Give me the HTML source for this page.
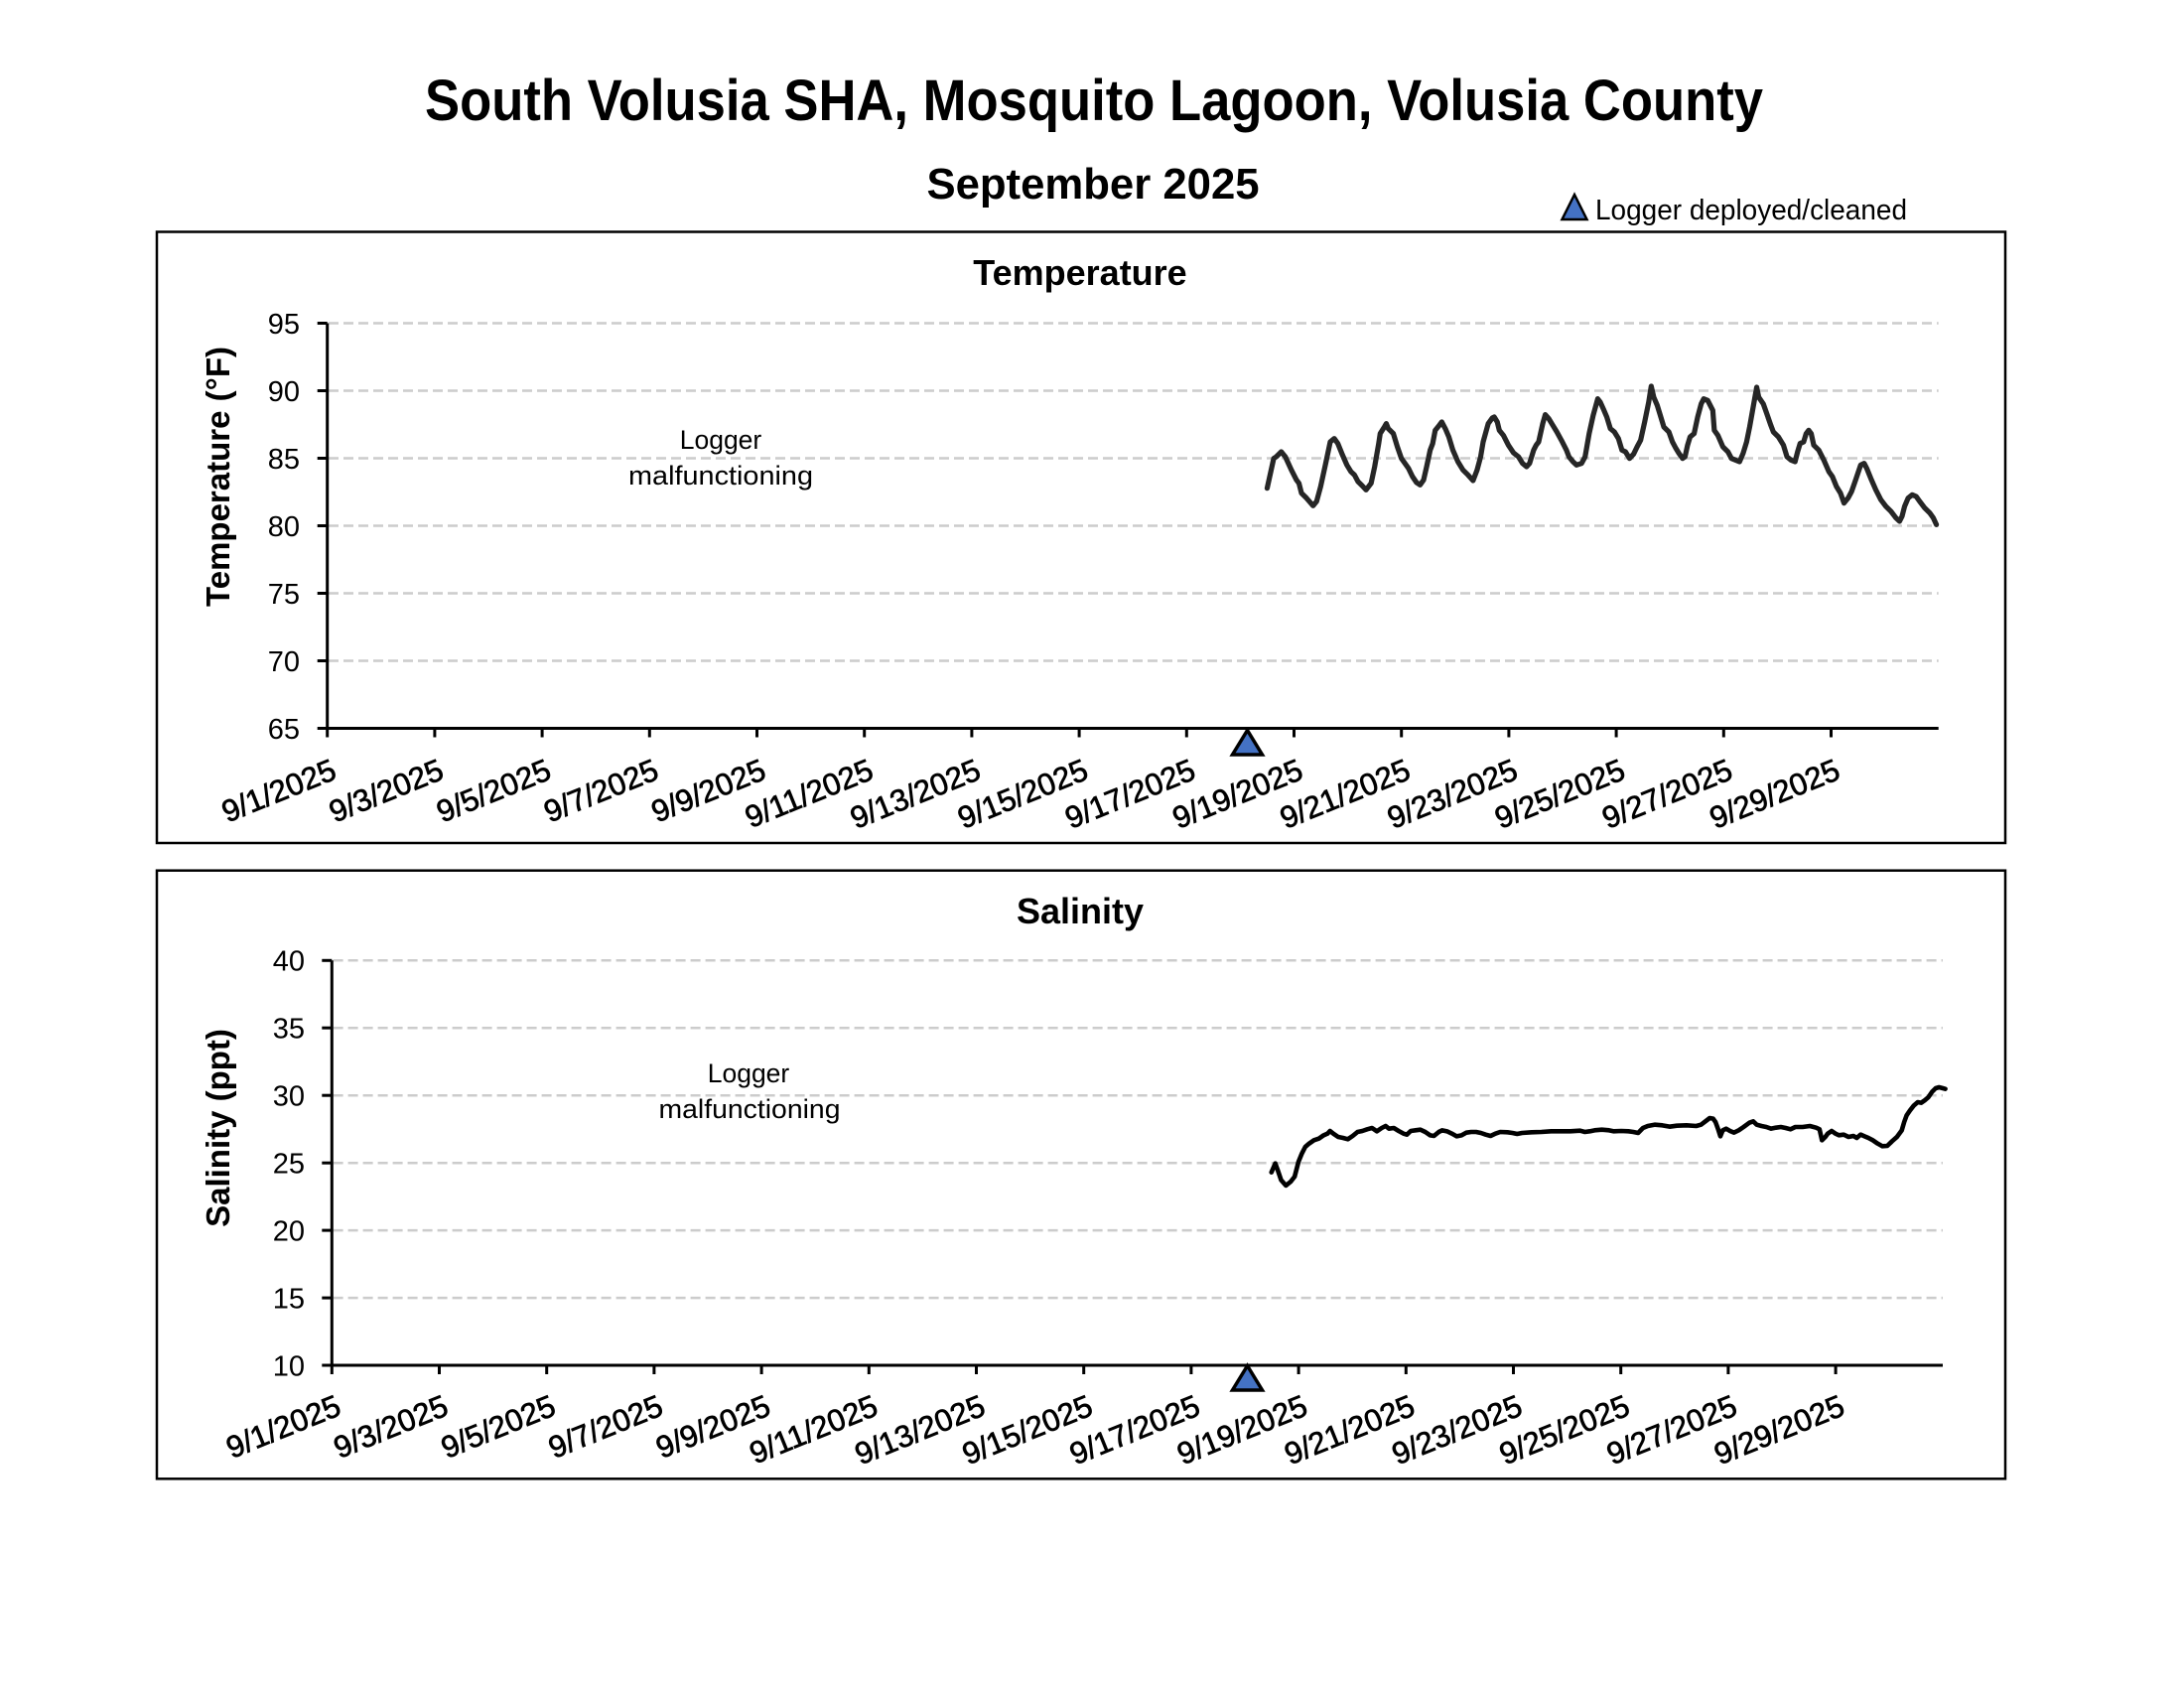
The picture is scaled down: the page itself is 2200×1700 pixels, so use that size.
<!DOCTYPE html>
<html>
<head>
<meta charset="utf-8">
<style>
  html, body { margin: 0; padding: 0; background: #ffffff; }
  svg { display: block; }
  text { font-family: "Liberation Sans", Arial, sans-serif; fill: #000; }
  .xl text { stroke: #000; stroke-width: 0.7; }
</style>
</head>
<body>
<svg width="2200" height="1700" viewBox="0 0 2200 1700" xmlns="http://www.w3.org/2000/svg">
  <rect x="0" y="0" width="2200" height="1700" fill="#ffffff"/>

  <!-- Main titles -->
  <text x="428" y="121" font-size="58" font-weight="bold" textLength="1348" lengthAdjust="spacingAndGlyphs">South Volusia SHA, Mosquito Lagoon, Volusia County</text>
  <text x="1101" y="200" font-size="43.7" font-weight="bold" text-anchor="middle">September 2025</text>

  <!-- Legend -->
  <polygon points="1586,196 1573.5,221 1598.5,221" fill="#4472C4" stroke="#000" stroke-width="2.5" stroke-linejoin="miter"/>
  <text x="1607" y="221" font-size="29" textLength="314" lengthAdjust="spacingAndGlyphs">Logger deployed/cleaned</text>

  <!-- ================= TOP PANEL: Temperature ================= -->
  <rect x="158" y="233.5" width="1862" height="615.5" fill="none" stroke="#000" stroke-width="2.5"/>
  <text x="1088" y="287" font-size="36" font-weight="bold" text-anchor="middle">Temperature</text>

  <!-- gridlines -->
  <g stroke="#cccccc" stroke-width="2.5" stroke-dasharray="10 5">
    <line x1="331" y1="325.5" x2="1952.7" y2="325.5"/>
    <line x1="331" y1="393.5" x2="1952.7" y2="393.5"/>
    <line x1="331" y1="461.5" x2="1952.7" y2="461.5"/>
    <line x1="331" y1="529.5" x2="1952.7" y2="529.5"/>
    <line x1="331" y1="597.5" x2="1952.7" y2="597.5"/>
    <line x1="331" y1="665.5" x2="1952.7" y2="665.5"/>
  </g>

  <!-- axes -->
  <g stroke="#000" stroke-width="3" fill="none">
    <line x1="329.7" y1="325.5" x2="329.7" y2="733.5"/>
    <line x1="328.2" y1="733.5" x2="1952.7" y2="733.5"/>
    <line x1="319.7" y1="325.5" x2="329.7" y2="325.5"/>
    <line x1="319.7" y1="393.5" x2="329.7" y2="393.5"/>
    <line x1="319.7" y1="461.5" x2="329.7" y2="461.5"/>
    <line x1="319.7" y1="529.5" x2="329.7" y2="529.5"/>
    <line x1="319.7" y1="597.5" x2="329.7" y2="597.5"/>
    <line x1="319.7" y1="665.5" x2="329.7" y2="665.5"/>
    <line x1="319.7" y1="733.5" x2="329.7" y2="733.5"/>
    <line x1="329.7" y1="733.5" x2="329.7" y2="742.5"/>
    <line x1="437.9" y1="733.5" x2="437.9" y2="742.5"/>
    <line x1="546.1" y1="733.5" x2="546.1" y2="742.5"/>
    <line x1="654.3" y1="733.5" x2="654.3" y2="742.5"/>
    <line x1="762.5" y1="733.5" x2="762.5" y2="742.5"/>
    <line x1="870.7" y1="733.5" x2="870.7" y2="742.5"/>
    <line x1="978.9" y1="733.5" x2="978.9" y2="742.5"/>
    <line x1="1087.1" y1="733.5" x2="1087.1" y2="742.5"/>
    <line x1="1195.3" y1="733.5" x2="1195.3" y2="742.5"/>
    <line x1="1303.5" y1="733.5" x2="1303.5" y2="742.5"/>
    <line x1="1411.7" y1="733.5" x2="1411.7" y2="742.5"/>
    <line x1="1519.9" y1="733.5" x2="1519.9" y2="742.5"/>
    <line x1="1628.1" y1="733.5" x2="1628.1" y2="742.5"/>
    <line x1="1736.3" y1="733.5" x2="1736.3" y2="742.5"/>
    <line x1="1844.5" y1="733.5" x2="1844.5" y2="742.5"/>
  </g>

  <!-- y tick labels -->
  <g font-size="29" text-anchor="end">
    <text x="302" y="335.8">95</text>
    <text x="302" y="403.8">90</text>
    <text x="302" y="471.8">85</text>
    <text x="302" y="539.8">80</text>
    <text x="302" y="607.8">75</text>
    <text x="302" y="675.8">70</text>
    <text x="302" y="743.8">65</text>
  </g>

  <!-- y axis title -->
  <text transform="translate(231,480) rotate(-90)" font-size="33" font-weight="bold" text-anchor="middle">Temperature (°F)</text>

  <!-- x tick labels -->
  <g class="xl" font-size="31" text-anchor="end">
    <text transform="translate(340.7,783.5) rotate(-22)">9/1/2025</text>
    <text transform="translate(448.9,783.5) rotate(-22)">9/3/2025</text>
    <text transform="translate(557.1,783.5) rotate(-22)">9/5/2025</text>
    <text transform="translate(665.3,783.5) rotate(-22)">9/7/2025</text>
    <text transform="translate(773.5,783.5) rotate(-22)">9/9/2025</text>
    <text transform="translate(881.7,783.5) rotate(-22)">9/11/2025</text>
    <text transform="translate(989.9,783.5) rotate(-22)">9/13/2025</text>
    <text transform="translate(1098.1,783.5) rotate(-22)">9/15/2025</text>
    <text transform="translate(1206.3,783.5) rotate(-22)">9/17/2025</text>
    <text transform="translate(1314.5,783.5) rotate(-22)">9/19/2025</text>
    <text transform="translate(1422.7,783.5) rotate(-22)">9/21/2025</text>
    <text transform="translate(1530.9,783.5) rotate(-22)">9/23/2025</text>
    <text transform="translate(1639.1,783.5) rotate(-22)">9/25/2025</text>
    <text transform="translate(1747.3,783.5) rotate(-22)">9/27/2025</text>
    <text transform="translate(1855.5,783.5) rotate(-22)">9/29/2025</text>
  </g>

  <!-- annotation -->
  <g font-size="26.5" text-anchor="middle">
    <text x="726" y="452">Logger</text>
    <text x="726" y="488" textLength="186" lengthAdjust="spacingAndGlyphs">malfunctioning</text>
  </g>

  <!-- temperature series -->
  <g transform="translate(1250,320) scale(0.50839,0.33333)">
    <polyline fill="none" stroke="#262626" stroke-width="5.2" stroke-linejoin="round" stroke-linecap="round" vector-effect="non-scaling-stroke"
      points="52,515 65,425 70,420 80,405 88,420 100,460 110,490 115,500 120,530 130,545 143,568 150,555 158,510 168,440 177,375 185,365 192,380 200,410 210,445 218,465 225,475 232,495 240,507 248,520 258,500 265,450 273,380 276,350 285,328 288,320 292,335 302,350 310,390 318,425 325,440 332,455 340,480 348,498 355,505 362,490 368,450 375,400 380,380 385,340 393,325 398,315 405,335 412,360 420,400 430,435 440,460 450,475 460,492 468,460 475,420 480,375 490,320 498,303 502,300 508,315 512,340 520,355 530,385 540,408 550,420 558,440 566,450 572,440 580,400 585,385 590,375 598,320 603,293 610,305 618,325 626,345 635,370 645,400 650,420 658,435 665,445 675,440 682,420 690,350 698,295 707,245 712,255 718,275 725,300 732,335 740,345 748,365 755,400 762,405 770,425 778,412 785,390 792,370 800,315 808,255 813,207 818,240 825,265 830,290 838,330 848,345 855,375 862,395 868,410 875,425 880,420 885,385 890,360 898,350 905,300 912,260 917,245 925,250 935,280 938,340 945,355 955,390 965,405 972,425 980,430 988,435 995,410 1002,375 1008,330 1015,270 1022,210 1026,240 1035,260 1042,290 1050,325 1055,345 1065,360 1075,385 1082,420 1090,430 1098,435 1103,405 1108,380 1115,375 1120,350 1125,340 1130,350 1135,385 1145,400 1155,430 1165,465 1172,480 1180,510 1188,530 1195,560 1203,545 1210,525 1218,490 1228,445 1235,440 1240,455 1248,485 1258,520 1268,550 1278,570 1288,585 1298,605 1305,615 1310,600 1315,570 1322,545 1330,535 1338,540 1345,555 1355,575 1365,590 1372,605 1378,625"/>
  </g>

  <!-- deployed marker -->
  <polygon points="1256.5,735.5 1241.5,760 1271.5,760" fill="#4472C4" stroke="#000" stroke-width="3.5" stroke-linejoin="miter"/>

  <!-- ================= BOTTOM PANEL: Salinity ================= -->
  <rect x="158" y="876.7" width="1862" height="612.6" fill="none" stroke="#000" stroke-width="2.5"/>
  <text x="1088" y="930" font-size="36" font-weight="bold" text-anchor="middle">Salinity</text>

  <g stroke="#cccccc" stroke-width="2.5" stroke-dasharray="10 5">
    <line x1="335.6" y1="967.3" x2="1957" y2="967.3"/>
    <line x1="335.6" y1="1035.2" x2="1957" y2="1035.2"/>
    <line x1="335.6" y1="1103.2" x2="1957" y2="1103.2"/>
    <line x1="335.6" y1="1171.2" x2="1957" y2="1171.2"/>
    <line x1="335.6" y1="1239.1" x2="1957" y2="1239.1"/>
    <line x1="335.6" y1="1307.1" x2="1957" y2="1307.1"/>
  </g>

  <g stroke="#000" stroke-width="3" fill="none">
    <line x1="334.3" y1="967.3" x2="334.3" y2="1375"/>
    <line x1="332.8" y1="1375" x2="1957" y2="1375"/>
    <line x1="324.3" y1="967.3" x2="334.3" y2="967.3"/>
    <line x1="324.3" y1="1035.2" x2="334.3" y2="1035.2"/>
    <line x1="324.3" y1="1103.2" x2="334.3" y2="1103.2"/>
    <line x1="324.3" y1="1171.2" x2="334.3" y2="1171.2"/>
    <line x1="324.3" y1="1239.1" x2="334.3" y2="1239.1"/>
    <line x1="324.3" y1="1307.1" x2="334.3" y2="1307.1"/>
    <line x1="324.3" y1="1375" x2="334.3" y2="1375"/>
    <line x1="334.3" y1="1375" x2="334.3" y2="1384"/>
    <line x1="442.5" y1="1375" x2="442.5" y2="1384"/>
    <line x1="550.7" y1="1375" x2="550.7" y2="1384"/>
    <line x1="658.9" y1="1375" x2="658.9" y2="1384"/>
    <line x1="767.1" y1="1375" x2="767.1" y2="1384"/>
    <line x1="875.3" y1="1375" x2="875.3" y2="1384"/>
    <line x1="983.5" y1="1375" x2="983.5" y2="1384"/>
    <line x1="1091.7" y1="1375" x2="1091.7" y2="1384"/>
    <line x1="1199.9" y1="1375" x2="1199.9" y2="1384"/>
    <line x1="1308.1" y1="1375" x2="1308.1" y2="1384"/>
    <line x1="1416.3" y1="1375" x2="1416.3" y2="1384"/>
    <line x1="1524.5" y1="1375" x2="1524.5" y2="1384"/>
    <line x1="1632.7" y1="1375" x2="1632.7" y2="1384"/>
    <line x1="1740.9" y1="1375" x2="1740.9" y2="1384"/>
    <line x1="1849.1" y1="1375" x2="1849.1" y2="1384"/>
  </g>

  <g font-size="29" text-anchor="end">
    <text x="307" y="977.6">40</text>
    <text x="307" y="1045.5">35</text>
    <text x="307" y="1113.5">30</text>
    <text x="307" y="1181.5">25</text>
    <text x="307" y="1249.4">20</text>
    <text x="307" y="1317.4">15</text>
    <text x="307" y="1385.3">10</text>
  </g>

  <text transform="translate(231,1136) rotate(-90)" font-size="33" font-weight="bold" text-anchor="middle">Salinity (ppt)</text>

  <g class="xl" font-size="31" text-anchor="end">
    <text transform="translate(345.3,1424) rotate(-22)">9/1/2025</text>
    <text transform="translate(453.5,1424) rotate(-22)">9/3/2025</text>
    <text transform="translate(561.7,1424) rotate(-22)">9/5/2025</text>
    <text transform="translate(669.9,1424) rotate(-22)">9/7/2025</text>
    <text transform="translate(778.1,1424) rotate(-22)">9/9/2025</text>
    <text transform="translate(886.3,1424) rotate(-22)">9/11/2025</text>
    <text transform="translate(994.5,1424) rotate(-22)">9/13/2025</text>
    <text transform="translate(1102.7,1424) rotate(-22)">9/15/2025</text>
    <text transform="translate(1210.9,1424) rotate(-22)">9/17/2025</text>
    <text transform="translate(1319.1,1424) rotate(-22)">9/19/2025</text>
    <text transform="translate(1427.3,1424) rotate(-22)">9/21/2025</text>
    <text transform="translate(1535.5,1424) rotate(-22)">9/23/2025</text>
    <text transform="translate(1643.7,1424) rotate(-22)">9/25/2025</text>
    <text transform="translate(1751.9,1424) rotate(-22)">9/27/2025</text>
    <text transform="translate(1860.1,1424) rotate(-22)">9/29/2025</text>
  </g>

  <g font-size="26.5" text-anchor="middle">
    <text x="754" y="1090">Logger</text>
    <text x="755" y="1126" textLength="183" lengthAdjust="spacingAndGlyphs">malfunctioning</text>
  </g>

  <!-- salinity series -->
  <g transform="translate(1270,1060) scale(0.48733,0.33333)">
    <polyline fill="none" stroke="#000" stroke-width="4.6" stroke-linejoin="round" stroke-linecap="round" vector-effect="non-scaling-stroke"
      points="22,362 30,335 35,355 42,385 52,402 62,390 70,375 78,330 85,305 92,285 100,275 110,265 120,260 130,250 138,245 143,237 150,245 160,255 170,258 180,262 190,252 200,240 210,237 220,232 230,228 240,238 250,228 258,222 265,230 275,228 285,237 295,245 302,248 310,237 320,235 330,233 340,240 350,250 358,252 368,240 375,235 385,238 395,245 405,253 415,250 425,242 435,240 445,240 455,243 465,248 475,252 485,245 495,240 510,241 520,243 530,246 540,243 560,241 580,240 600,238 620,238 640,238 660,236 670,240 680,238 690,235 705,233 720,235 730,238 745,237 760,238 770,240 780,243 790,228 800,222 815,218 830,220 845,224 860,221 880,220 900,222 910,218 920,207 928,198 935,200 940,210 945,230 950,253 955,235 962,230 970,237 978,242 988,235 998,225 1010,212 1018,208 1025,218 1035,222 1045,225 1055,230 1065,227 1075,225 1085,228 1095,232 1105,225 1120,225 1135,222 1148,227 1155,232 1160,265 1167,255 1172,245 1180,237 1188,245 1195,250 1205,248 1215,255 1225,252 1232,258 1240,248 1248,253 1256,258 1265,265 1275,275 1285,283 1295,282 1305,268 1315,255 1325,235 1330,210 1335,190 1342,175 1350,160 1358,150 1365,152 1372,145 1380,135 1388,118 1395,108 1402,105 1410,108 1415,110"/>
  </g>

  <polygon points="1256.5,1375.5 1241.5,1400 1271.5,1400" fill="#4472C4" stroke="#000" stroke-width="3.5" stroke-linejoin="miter"/>
</svg>
</body>
</html>
